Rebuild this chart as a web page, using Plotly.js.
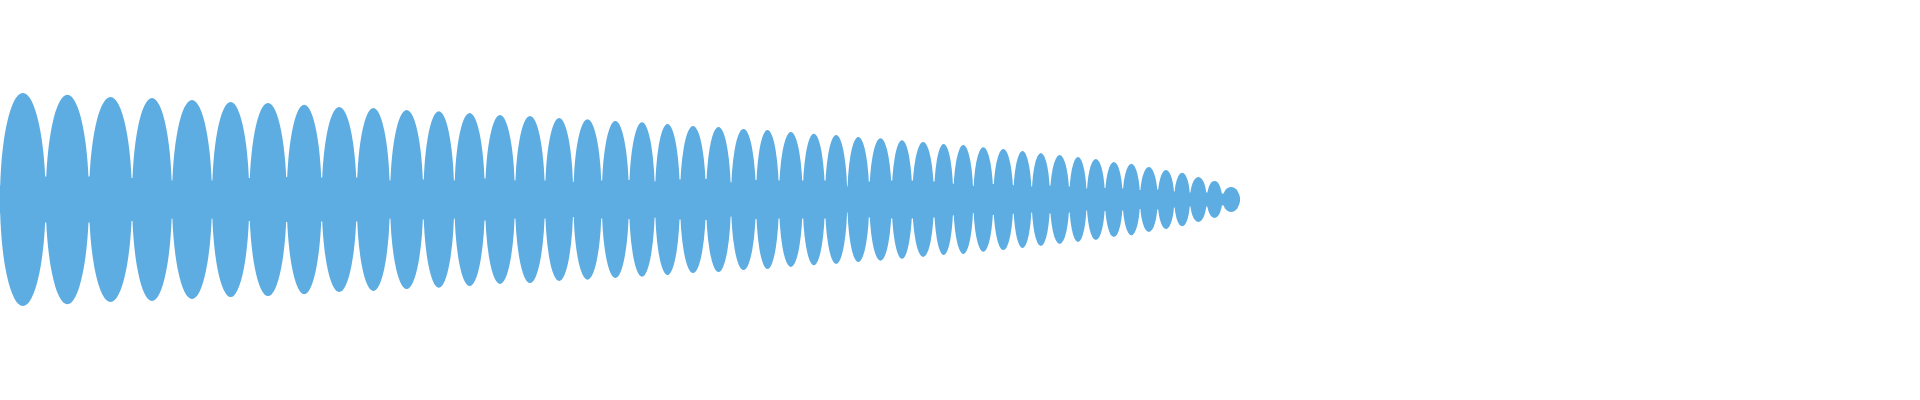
<!DOCTYPE html>
<html>
<head>
<meta charset="utf-8">
<script src="https://cdn.plot.ly/plotly-3.0.1.min.js"></script>
<style>
  html, body { margin: 0; padding: 0; background: #fff; }
  #plot { width: 1920px; height: 400px; }
</style>
</head>
<body>
<div id="plot"></div>
<script>
// Lobe boundaries (x)
const lobeEdges = [0, 45.7, 89, 132, 172, 212, 249.3, 286.7, 321.7, 356.7, 390, 423.3,
    454.3, 485, 515, 545, 573.3, 601.7, 629, 655, 680, 706, 731, 756, 779, 802.7, 825,
    847.3, 869.3, 891.7, 912.3, 934, 953.3, 973.3, 993.3, 1013.3, 1031.7, 1050, 1069.3,
    1086.7, 1105, 1122.7, 1140, 1157.7, 1174.3, 1190, 1206.7, 1222.3, 1240];

// Peak amplitude of each lobe
const lobePeaks = [106.5, 104.8, 102.5, 101.5, 99.5, 97.5, 96.5, 94.8,
    92.5, 91.5, 89.5, 88.2, 86.5, 84.5, 83.5, 81.5, 80.2, 78.5,
    77.2, 75.5, 73.5, 72.5, 70.5, 69.5, 67.5, 65.8, 64.5, 62.5, 61.2, 59.2, 57.5,
    55.5, 54.5, 52.2, 50.5, 48.5, 46.5, 44.5, 42.5, 40.5, 37.5, 35.8, 32.5, 29.5,
    26.8, 22.5, 18.5, 12.5];

// Half height of the waveform at each boundary (the neck between lobes)
const neckHeights = [14, 23, 23, 21.5, 19, 19, 21.5, 22.5, 22, 22, 19, 20, 19, 21, 19, 19,
    17.5, 19, 19.5, 18, 20, 20.5, 17, 19.5, 19, 19, 19, 13, 18, 19, 19, 18, 16, 13.5, 15.5,
    14.5, 13, 14, 13, 11, 11.5, 11, 9.5, 10, 8, 7, 7, 6, 2.5];

const fillColor = '#5DADE2';

// Centre band through the necks
const upper = {
    x: lobeEdges,
    y: neckHeights,
    type: 'scatter',
    mode: 'lines',
    line: { width: 0, color: fillColor },
    hoverinfo: 'skip',
    showlegend: false
};
const lower = {
    x: lobeEdges,
    y: neckHeights.map(v => -v),
    type: 'scatter',
    mode: 'lines',
    fill: 'tonexty',
    fillcolor: fillColor,
    line: { width: 0, color: fillColor },
    hoverinfo: 'skip',
    showlegend: false
};

// One ellipse per lobe
const lobes = lobePeaks.map((amp, i) => ({
    type: 'circle',
    xref: 'x',
    yref: 'y',
    x0: lobeEdges[i],
    x1: lobeEdges[i + 1],
    y0: -amp,
    y1: amp,
    fillcolor: fillColor,
    line: { width: 0 },
    layer: 'above'
}));

const layout = {
    width: 1920,
    height: 400,
    margin: { l: 0, r: 0, t: 0, b: 0 },
    paper_bgcolor: 'white',
    plot_bgcolor: 'white',
    showlegend: false,
    xaxis: { range: [0, 1920], visible: false, fixedrange: true },
    yaxis: { range: [-200.5, 199.5], visible: false, fixedrange: true },
    shapes: lobes
};

Plotly.newPlot('plot', [upper, lower], layout, { displayModeBar: false, staticPlot: true });
</script>
</body>
</html>
